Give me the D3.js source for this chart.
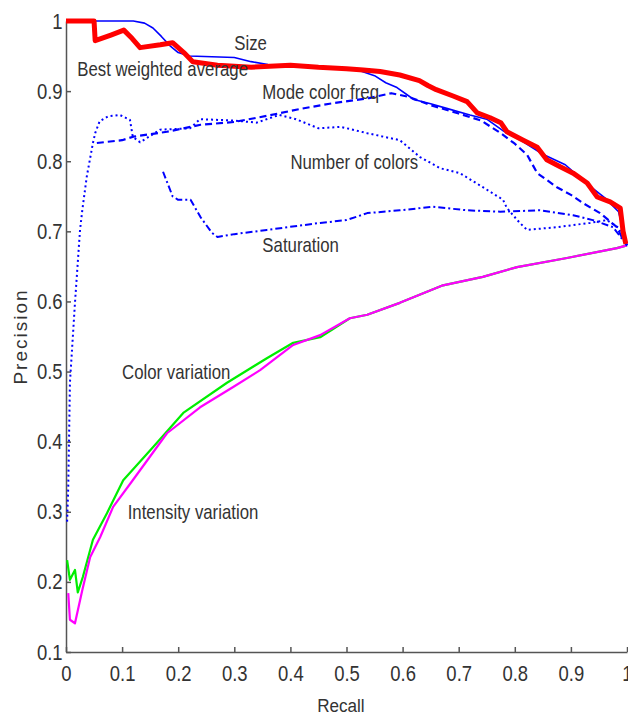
<!DOCTYPE html>
<html>
<head>
<meta charset="utf-8">
<script src="https://cdn.jsdelivr.net/npm/d3@7"></script>
<style>
  body { margin: 0; background: #fff; }
  .axis path, .axis line { stroke: #555; stroke-width: 1.5; }
  .axis text { font-family: "Liberation Sans", Arial, sans-serif; font-size: 22px; fill: #333; }
  .note { font-family: "Liberation Sans", Arial, sans-serif; font-size: 20px; fill: #333; }
  .title { font-family: "Liberation Sans", Arial, sans-serif; font-size: 19px; fill: #333; }
</style>
</head>
<body>
<div id="chart"></div>
<script>
// recall / precision pairs
var sizeCurve = [[0,1],[0.12,1],[0.14,0.997],[0.155,0.99],[0.17,0.978],[0.185,0.965],[0.2,0.955],[0.22,0.95],
  [0.3,0.948],[0.33,0.942],[0.36,0.938],[0.45,0.935],[0.52,0.93],[0.55,0.922],[0.57,0.912],[0.59,0.905],
  [0.62,0.888],[0.65,0.882],[0.68,0.875],[0.72,0.866],[0.75,0.86],[0.78,0.843],[0.81,0.83],[0.85,0.81],
  [0.89,0.795],[0.93,0.767],[0.96,0.748],[0.985,0.728],[1,0.68]];

var bestWeighted = [[0,1],[0.05,1],[0.052,0.972],[0.08,0.98],[0.103,0.987],[0.118,0.975],[0.132,0.962],
  [0.168,0.966],[0.19,0.969],[0.21,0.955],[0.226,0.942],[0.27,0.937],[0.33,0.934],[0.4,0.937],[0.45,0.934],
  [0.5,0.932],[0.53,0.93],[0.56,0.928],[0.595,0.923],[0.63,0.915],[0.645,0.908],[0.66,0.902],[0.69,0.893],
  [0.715,0.885],[0.733,0.869],[0.756,0.862],[0.775,0.855],[0.786,0.842],[0.815,0.83],[0.84,0.82],
  [0.857,0.802],[0.881,0.792],[0.904,0.783],[0.929,0.769],[0.947,0.749],[0.97,0.742],[0.988,0.733],
  [0.993,0.7],[0.998,0.682]];

var modeColorFreq = [[0.055,0.826],[0.1,0.83],[0.12,0.835],[0.18,0.842],[0.24,0.852],[0.3,0.856],
  [0.36,0.865],[0.42,0.875],[0.47,0.882],[0.54,0.89],[0.58,0.897],[0.61,0.892],[0.65,0.88],[0.7,0.868],
  [0.74,0.858],[0.775,0.84],[0.8,0.825],[0.822,0.809],[0.84,0.783],[0.875,0.763],[0.9,0.752],
  [0.922,0.74],[0.952,0.726],[0.982,0.706],[0.993,0.688],[1,0.68]];

var numberOfColors = [[0.002,0.286],[0.004,0.335],[0.007,0.484],[0.016,0.598],[0.025,0.702],[0.029,0.73],
  [0.037,0.778],[0.048,0.826],[0.052,0.84],[0.06,0.857],[0.075,0.864],[0.096,0.866],[0.114,0.859],
  [0.119,0.835],[0.132,0.827],[0.168,0.845],[0.221,0.847],[0.239,0.86],[0.3,0.858],[0.34,0.855],
  [0.38,0.866],[0.41,0.86],[0.45,0.847],[0.49,0.849],[0.537,0.84],[0.595,0.83],[0.631,0.806],
  [0.667,0.79],[0.702,0.783],[0.743,0.763],[0.779,0.745],[0.786,0.733],[0.809,0.712],[0.822,0.702],
  [0.875,0.706],[0.934,0.712],[0.964,0.716],[0.985,0.705],[1,0.68]];

var saturation = [[0.173,0.785],[0.19,0.75],[0.2,0.745],[0.222,0.745],[0.24,0.72],[0.26,0.698],
  [0.27,0.692],[0.3,0.696],[0.358,0.702],[0.453,0.712],[0.5,0.716],[0.537,0.726],[0.595,0.73],
  [0.654,0.735],[0.715,0.73],[0.774,0.728],[0.845,0.73],[0.904,0.723],[0.939,0.716],[0.975,0.706],[1,0.68]];

var colorVariation = [[0.002,0.231],[0.007,0.203],[0.016,0.217],[0.021,0.185],[0.03,0.207],[0.048,0.26],
  [0.073,0.298],[0.102,0.345],[0.155,0.392],[0.209,0.441],[0.287,0.484],[0.358,0.519],[0.405,0.541],
  [0.453,0.549],[0.506,0.576],[0.537,0.581],[0.595,0.598],[0.672,0.623],[0.743,0.635],[0.804,0.649],
  [0.893,0.662],[0.982,0.676],[1,0.68]];

var intensityVariation = [[0.004,0.184],[0.007,0.146],[0.016,0.141],[0.029,0.188],[0.043,0.235],
  [0.061,0.264],[0.084,0.307],[0.119,0.345],[0.18,0.412],[0.239,0.449],[0.298,0.478],[0.346,0.502],
  [0.405,0.538],[0.453,0.552],[0.506,0.576],[0.537,0.581],[0.595,0.598],[0.672,0.623],[0.743,0.635],
  [0.804,0.649],[0.893,0.662],[0.982,0.676],[1,0.68]];

var xTicks = [0, 0.1, 0.2, 0.3, 0.4, 0.5, 0.6, 0.7, 0.8, 0.9, 1];
var yTicks = [0.1, 0.2, 0.3, 0.4, 0.5, 0.6, 0.7, 0.8, 0.9, 1];

var margin = { top: 21, right: 1, bottom: 63, left: 66 },
    width = 628 - margin.left - margin.right,
    height = 715 - margin.top - margin.bottom;

var x = d3.scaleLinear().domain([0, 1]).range([0, width]);
var y = d3.scaleLinear().domain([0.1, 1]).range([height, 0]);

var svg = d3.select("#chart").append("svg")
    .attr("width", 628)
    .attr("height", 715)
  .append("g")
    .attr("transform", "translate(" + margin.left + "," + margin.top + ")");

var fmt = d3.format("~g");
// the original lettering is a condensed face, squeeze it horizontally
var squeeze = 0.84;

svg.append("g")
    .attr("class", "x axis")
    .attr("transform", "translate(0," + height + ")")
    .call(d3.axisBottom(x).tickValues(xTicks).tickSizeInner(-5).tickSizeOuter(0).tickPadding(13).tickFormat(fmt))
  .selectAll("text")
    .attr("transform", "scale(" + squeeze + ",1)");

svg.append("g")
    .attr("class", "y axis")
    .call(d3.axisLeft(y).tickValues(yTicks).tickSizeInner(-5).tickSizeOuter(0).tickPadding(4).tickFormat(fmt))
  .selectAll("text")
    .attr("transform", "scale(" + squeeze + ",1)");

var line = d3.line()
    .x(function (d) { return x(d[0]); })
    .y(function (d) { return y(d[1]); });

// green first, magenta drawn over it; blues under the thick red one
var series = [
  { data: colorVariation, color: "#00ee00", w: 2.2, dash: null },
  { data: intensityVariation, color: "#ff00ff", w: 2.2, dash: null },
  { data: saturation, color: "#0000ff", w: 2, dash: "7,3,2,3" },
  { data: numberOfColors, color: "#0000ff", w: 2, dash: "2,3" },
  { data: modeColorFreq, color: "#0000ff", w: 2.2, dash: "7,4" },
  { data: sizeCurve, color: "#0000ff", w: 1.6, dash: null },
  { data: bestWeighted, color: "#ff0000", w: 5, dash: null }
];

svg.selectAll(".curve")
    .data(series)
  .enter().append("path")
    .attr("class", "curve")
    .attr("fill", "none")
    .attr("stroke", function (d) { return d.color; })
    .attr("stroke-width", function (d) { return d.w; })
    .attr("stroke-dasharray", function (d) { return d.dash; })
    .attr("stroke-linejoin", "round")
    .attr("d", function (d) { return line(d.data); });

// curve names written inside the plot
var notes = [
  { text: "Size", x: 0.3, y: 0.958 },
  { text: "Best weighted average", x: 0.02, y: 0.922 },
  { text: "Mode color freq", x: 0.35, y: 0.889 },
  { text: "Number of colors", x: 0.4, y: 0.789 },
  { text: "Saturation", x: 0.35, y: 0.671 },
  { text: "Color variation", x: 0.1, y: 0.49 },
  { text: "Intensity variation", x: 0.11, y: 0.29 }
];

svg.selectAll(".note")
    .data(notes)
  .enter().append("text")
    .attr("class", "note")
    .attr("transform", function (d) {
      return "translate(" + x(d.x) + "," + y(d.y) + ") scale(" + squeeze + ",1)";
    })
    .text(function (d) { return d.text; });

svg.append("text")
    .attr("class", "title")
    .attr("transform", "translate(" + (width * 0.49) + "," + (height + 60) + ") scale(0.9,1)")
    .style("text-anchor", "middle")
    .text("Recall");

svg.append("text")
    .attr("class", "title")
    .attr("transform", "rotate(-90)")
    .attr("x", -(y(0.55)))
    .attr("y", -39)
    .style("text-anchor", "middle")
    .style("letter-spacing", "2px")
    .text("Precision");
</script>
</body>
</html>
